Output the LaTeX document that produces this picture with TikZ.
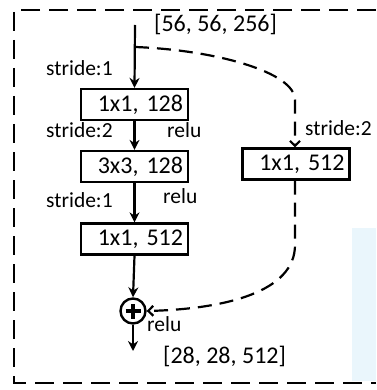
\documentclass[tikz,border=0pt]{standalone}
\usepackage{fontspec}
\setmainfont{Carlito}
\usetikzlibrary{arrows.meta}
\definecolor{patch}{RGB}{234,246,252}
\begin{document}
\begin{tikzpicture}[x=1pt,y=-1pt, font=\fontsize{24}{28}\selectfont,
  blk/.style={draw, line width=2.2pt, minimum height=31pt, text width=97pt, align=right, inner xsep=5pt, inner ysep=0pt},
  flow/.style={line width=2.2pt, -{Stealth[length=10pt,width=10pt]}},
  skip/.style={line width=2.2pt, dash pattern=on 14pt off 8pt, -{Straight Barb[length=5pt,width=10pt]}},
  lbl/.style={inner sep=0pt, anchor=west, text height=0.7em, text depth=0.2em},
  small/.style={lbl, font=\fontsize{21.5}{25}\selectfont},
  plus/.style={draw, circle, line width=2.4pt, minimum size=25pt, inner sep=0pt}]
\useasboundingbox (0,0) rectangle (376,390);
\fill[patch] (352,228) rectangle (376,381);
\draw[line width=2.6pt, dash pattern=on 19pt off 9pt] (376,10) -- (14,10) -- (14,383) -- (376,383);

\coordinate (in) at (135,25);
\coordinate (split) at (135,47);
\coordinate (out) at (133,351);
\node[blk] (b1) at (134.5,104.5) {1x1, 128};
\node[blk] (b2) at (134.5,166.5) {3x3, 128};
\node[blk] (b3) at (134.5,239) {1x1, 512};
\node[blk] (b4) at (296,164) {1x1, 512};
\node[plus] (p) at (133,311) {};
\draw[line width=3.4pt] ([xshift=-7.5pt]p.center) -- ([xshift=7.5pt]p.center);
\draw[line width=3.4pt] ([yshift=-7.5pt]p.center) -- ([yshift=7.5pt]p.center);

\draw[flow] (in) -- (b1.north);
\draw[flow] (b1.south) -- (b2.north);
\draw[flow] (b2.south) -- (b3.north);
\draw[flow] (b3.south) -- (p.north);
\draw[flow] (p.south) -- (out);
\draw[skip] (split) .. controls (215,50) and (295,72) .. (295,100) -- (b4.north -| 295,0);
\draw[skip] (b4.south -| 295,0) -- (295,245) .. controls (295,292) and (225,309) .. (p.east);

\node[lbl] (t1) at (154,29) {[56, 56, 256]};
\node[small] (s1) at (46,73) {stride:1};
\node[small] (s2) at (46,135) {stride:2};
\node[small] (r1) at (167,135) {relu};
\node[small] (s3) at (46,205) {stride:1};
\node[small] (r2) at (163,201) {relu};
\node[small] (s4) at (305,133) {stride:2};
\node[small] (r3) at (147,329) {relu};
\node[lbl] (t2) at (163,361) {[28, 28, 512]};
\end{tikzpicture}
\end{document}
